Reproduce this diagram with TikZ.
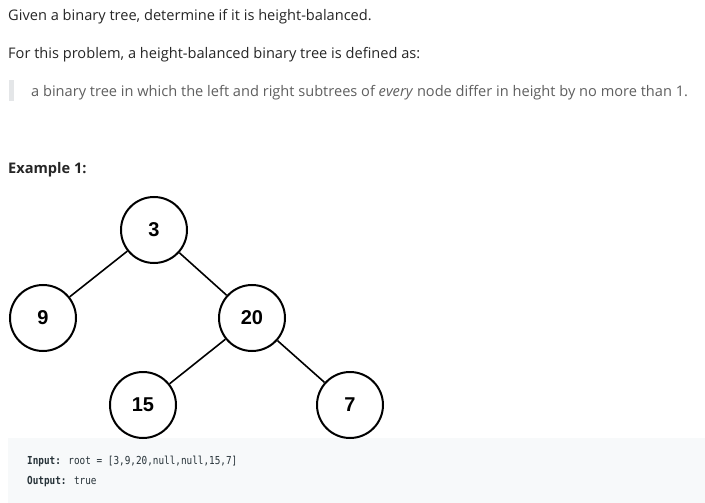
\documentclass[tikz,border=0pt]{standalone}
\usepackage{fontspec}
\setmainfont{Open Sans}
\newfontfamily\nodefont{Liberation Sans}
\newfontfamily\codefont{DejaVu Sans Mono}
\definecolor{maintext}{HTML}{262626}
\definecolor{quotetext}{HTML}{5F5F5F}
\definecolor{quotebar}{HTML}{E4E6E8}
\definecolor{codebg}{HTML}{F7F9FA}
\definecolor{codetext}{HTML}{263238}
\begin{document}
\begin{tikzpicture}[x=1pt,y=-1pt,
  treenode/.style={circle,draw=black,line width=2pt,fill=white,minimum size=66pt,inner sep=0pt,font=\nodefont\fontsize{20}{23}\selectfont\bfseries},
  edge/.style={line width=1.6pt,black},
  para/.style={anchor=west,inner sep=0pt,text=maintext,font=\fontsize{14.6}{17}\selectfont},
  codeline/.style={anchor=west,inner sep=0pt,text=codetext,font=\codefont\fontsize{11}{13}\selectfont}]
\useasboundingbox[fill=white] (0,0) rectangle (705,503);
% text
\node[para] (l1) at (8,17) {Given a binary tree, determine if it is height-balanced.};
\node[para] (l2) at (8,55) {For this problem, a height-balanced binary tree is defined as:};
\fill[quotebar] (9,80) rectangle (14,101);
\node[para,text=quotetext] (l3) at (31,93) {a binary tree in which the left and right subtrees of \textit{every} node differ in height by no more than 1.};
\node[para,font=\fontsize{14.6}{17}\selectfont\bfseries] (ex) at (8,170) {Example 1:};
% code box
\fill[codebg] (8,438) rectangle (705,503);
\node[codeline] (in) at (27,461) {\scalebox{0.85}[1]{\textbf{Input:} root = [3,9,20,null,null,15,7]}};
\node[codeline] (out) at (27,482) {\scalebox{0.85}[1]{\textbf{Output:} true}};
% tree
\node[treenode] (n3) at (154,230) {3};
\node[treenode] (n9) at (43,318) {9};
\node[treenode] (n20) at (252,318) {20};
\node[treenode] (n15) at (143,405) {15};
\node[treenode] (n7) at (350,405) {7};
\draw[edge] (n3) -- (n9);
\draw[edge] (n3) -- (n20);
\draw[edge] (n20) -- (n15);
\draw[edge] (n20) -- (n7);
\end{tikzpicture}
\end{document}
